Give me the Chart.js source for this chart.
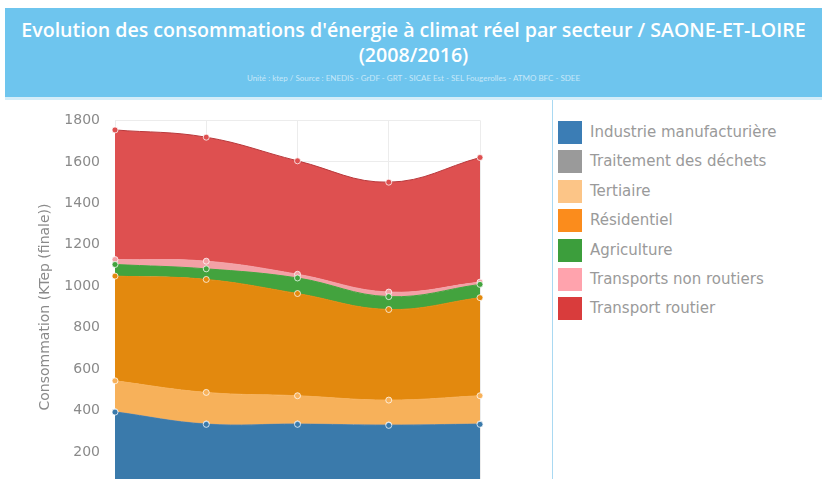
<!DOCTYPE html>
<html lang="fr">
<head>
<meta charset="utf-8">
<script src="https://cdn.jsdelivr.net/npm/chart.js@4/dist/chart.umd.min.js"></script>
<style>
  html, body { margin: 0; padding: 0; width: 822px; height: 479px; overflow: hidden; background: #fff; }
  .header { position: absolute; left: 5px; top: 8px; width: 817px; height: 89px; background: #6ec5ee; color: #fff; font-family: "Open Sans", Lato, sans-serif; }
  .header .t { position: absolute; left: 0; right: 0; text-align: center; white-space: nowrap; }
  .t1 { top: 8px; font-size: 19.6px; font-weight: 600; }
  .t2 { top: 33px; font-size: 19.6px; font-weight: 600; }
  .t3 { top: 65px; font-size: 8px; font-family: Lato, sans-serif; color: rgba(255,255,255,0.62); }
  .hline { position: absolute; left: 5px; top: 97px; width: 817px; height: 3px; background: #d4edf9; }
  .vline { position: absolute; left: 552px; top: 100px; width: 1px; height: 400px; background: #a9d9f2; }
  .chart-wrap { position: absolute; left: 0; top: 97px; width: 553px; height: 420px; }
  .legend { position: absolute; left: 558px; top: 121px; font-family: "DejaVu Sans", sans-serif; font-size: 15px; color: #9a9a9a; }
  .legend .item { height: 29.4px; display: flex; align-items: flex-start; }
  .legend .box { width: 24px; height: 23px; margin-right: 8px; }
  .legend .lbl { line-height: 23px; white-space: nowrap; }
</style>
</head>
<body>
<div class="header">
  <div class="t t1">Evolution des consommations d'énergie à climat réel par secteur / SAONE-ET-LOIRE</div>
  <div class="t t2">(2008/2016)</div>
  <div class="t t3">Unité : ktep / Source : ENEDIS - GrDF - GRT - SICAE Est - SEL Fougerolles - ATMO BFC - SDEE</div>
</div>
<div class="hline"></div>
<div class="vline"></div>
<div class="chart-wrap"><canvas id="chartConso"></canvas></div>
<div class="legend" id="legend"></div>

<script>
// Données (ktep)
const annees = ['2008', '2010', '2012', '2014', '2016'];
const secteurs = ['Industrie manufacturière', 'Traitement des déchets', 'Tertiaire', 'Résidentiel', 'Agriculture', 'Transports non routiers', 'Transport routier'];
const industrie   = [393, 334, 334, 329, 334];
const dechets     = [2, 2, 2, 2, 2];
const tertiaire   = [149, 152, 136, 120, 136];
const residentiel = [505, 545, 493, 437, 473];
const agriculture = [56, 51, 75, 62, 64];
const transpNR    = [24, 37, 18, 22, 11];
const transpR     = [625, 598, 547, 530, 601];
const yTicks = [200, 400, 600, 800, 1000, 1200, 1400, 1600, 1800];

const series = [industrie, dechets, tertiaire, residentiel, agriculture, transpNR, transpR];
const fillColors = ['#3a7aab', '#999999', '#f7b15a', '#e3890e', '#43a33e', '#f3a1a6', '#de5050'];
const lineColors = ['#3a7aab', '#999999', '#f7b15a', '#e3890e', '#43a33e', '#f3a1a6', '#b8383b'];
const legendColors = ['#3b7db5', '#9a9a9a', '#fcc587', '#fb8c1c', '#3c9e3c', '#ffa3ad', '#d93c3c'];

const datasets = series.map((vals, i) => ({
  label: secteurs[i],
  data: vals,
  backgroundColor: fillColors[i],
  borderColor: lineColors[i],
  borderWidth: 1,
  fill: i === 0 ? 'origin' : '-1',
  tension: 0.4,
  pointRadius: 3,
  pointBorderWidth: 1,
  pointBackgroundColor: fillColors[i],
  pointBorderColor: 'rgba(255,255,255,0.75)'
}));

new Chart(document.getElementById('chartConso'), {
  type: 'line',
  data: { labels: annees, datasets },
  options: {
    responsive: true, maintainAspectRatio: false, animation: false,
    layout: { padding: { top: 15, right: 73, left: 33, bottom: 0 } },
    plugins: { legend: { display: false }, tooltip: { enabled: false } },
    scales: {
      x: {
        ticks: { display: false },
        afterFit: s => { s.height = 0; },
        grid: { color: '#ececec', drawTicks: false },
        border: { display: false }
      },
      y: {
        stacked: true, min: 0, max: 1800,
        afterBuildTicks: s => { s.ticks = yTicks.map(v => ({ value: v })); },
        afterFit: s => { s.width = 82; },
        ticks: { padding: 15, color: '#8a8a8a', font: { family: 'DejaVu Sans', size: 14 }, callback: v => String(v) },
        grid: { color: '#ececec', drawTicks: false },
        border: { display: false },
        title: { display: true, text: 'Consommation (KTep (finale))', color: '#8a8a8a', font: { family: 'DejaVu Sans', size: 14 } }
      }
    }
  }
});

// Légende
document.getElementById('legend').innerHTML = secteurs.map((s, i) =>
  `<div class="item"><div class="box" style="background:${legendColors[i]}"></div><div class="lbl">${s}</div></div>`
).join('');
</script>
</body>
</html>
